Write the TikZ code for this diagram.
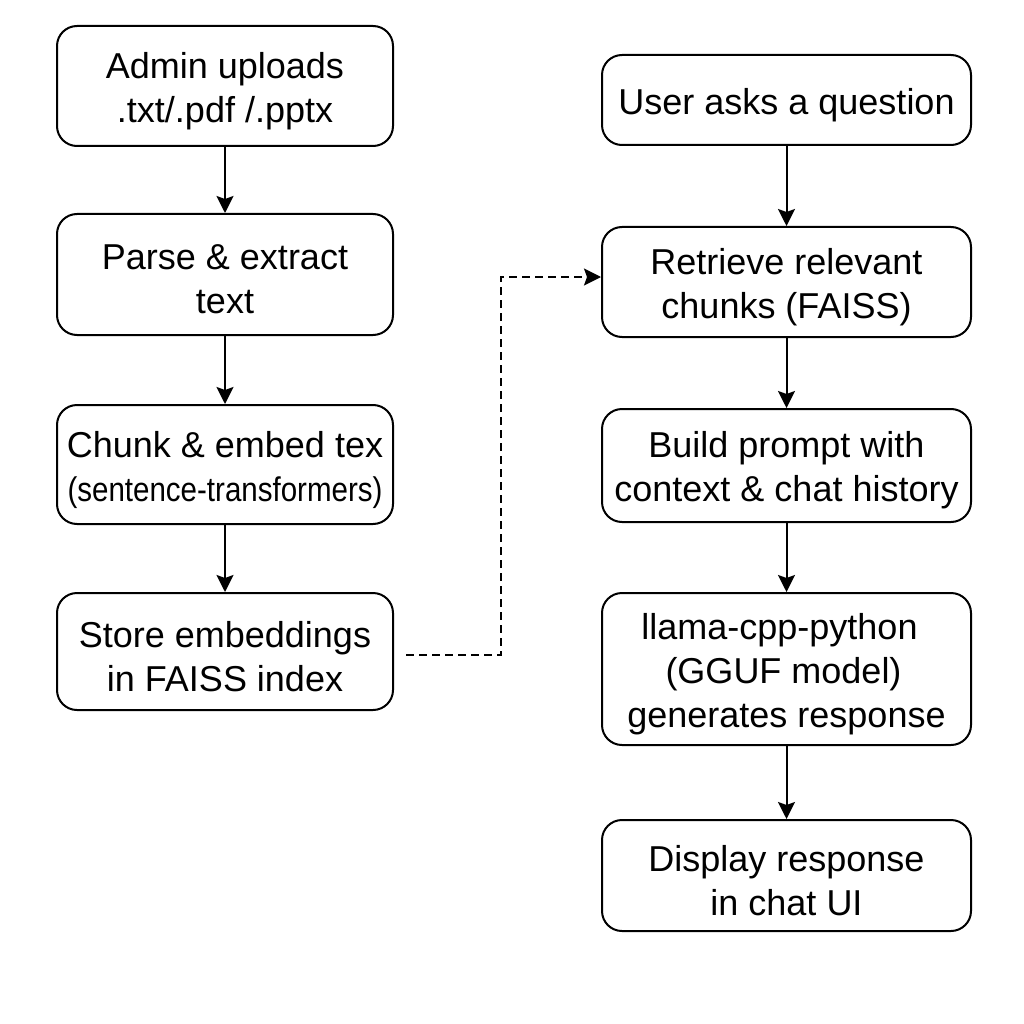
\documentclass[tikz,border=0pt]{standalone}
\usepackage{fontspec}
\setmainfont{Liberation Sans}
\usetikzlibrary{arrows.meta,calc}
\begin{document}
\begin{tikzpicture}[x=1pt,y=-1pt,
  box/.style={draw,line width=2pt,rounded corners=20pt,inner sep=0pt},
  lab/.style={align=center,font=\fontsize{36}{44}\selectfont,inner sep=0pt,yshift=-5pt},
  lbox/.style={box,minimum width=336pt},
  rbox/.style={box,minimum width=369pt},
  flow/.style={line width=2pt,-{Stealth[length=17pt,width=17pt,inset=3pt]}},
  dflow/.style={flow,dash pattern=on 8pt off 5pt}]
\useasboundingbox[fill=white] (0,0) rectangle (1024,1024);
\node[lbox,minimum height=120pt,label={[lab]center:{Admin uploads\\.txt/.pdf /.pptx}}] (upload) at (225,86) {};
\node[lbox,minimum height=121pt,label={[lab]center:{Parse \& extract\\text}}] (parse) at (225,274.5) {};
\node[lbox,minimum height=119pt,label={[lab]center:{Chunk \& embed tex\\\scalebox{0.82}[0.95]{(sentence-transformers)}}}] (chunk) at (225,464.5) {};
\node[lbox,minimum height=117pt,label={[lab]center:{Store embeddings\\in FAISS index}}] (store) at (225,651.5) {};
\node[rbox,minimum height=90pt,label={[lab]center:{User asks a question}}] (user) at (786.5,100) {};
\node[rbox,minimum height=110pt,label={[lab]center:{Retrieve relevant\\chunks (FAISS)}}] (retrieve) at (786.5,282) {};
\node[rbox,minimum height=113pt,label={[lab]center:{Build prompt with\\context \& chat history}}] (build) at (786.5,465.5) {};
\node[rbox,minimum height=152pt,label={[lab]center:{\hspace*{-14pt}llama-cpp-python\\\hspace*{-6pt}(GGUF model)\\generates response}}] (llama) at (786.5,669) {};
\node[rbox,minimum height=111pt,label={[lab]center:{Display response\\in chat UI}}] (display) at (786.5,875.5) {};
\draw[flow] (upload) -- (parse);
\draw[flow] (parse) -- (chunk);
\draw[flow] (chunk) -- (store);
\draw[flow] (user) -- (retrieve);
\draw[flow] (retrieve) -- (build);
\draw[flow] (build) -- (llama);
\draw[flow] (llama) -- (display);
\coordinate (ds) at ($(store.east)+(12,3.5)$);
\coordinate (dc) at (500.5,655);
\draw[dflow] (ds) -- (dc) |- ([yshift=5pt]retrieve.west);
\end{tikzpicture}
\end{document}
